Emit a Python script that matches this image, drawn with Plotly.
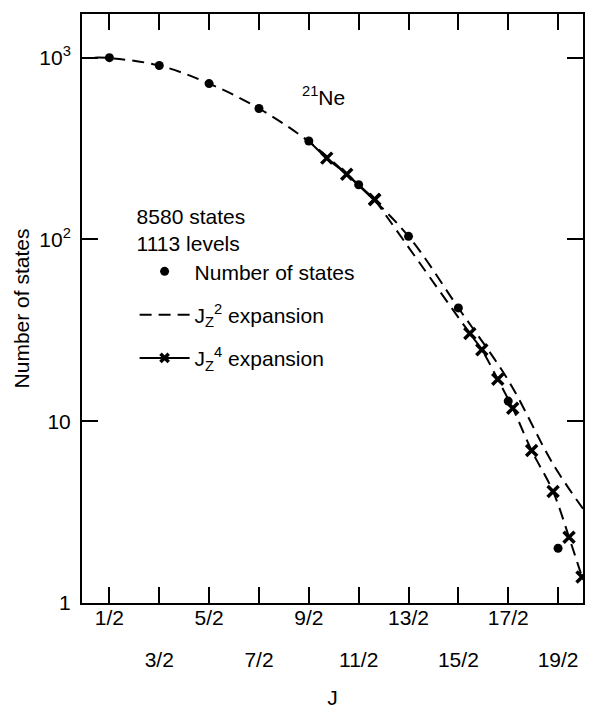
import plotly.graph_objects as go

# ---- data ----
J_states = [0.5, 1.5, 2.5, 3.5, 4.5, 5.5, 6.5, 7.5, 8.5, 9.5]
n_states = [1000, 905, 720, 525, 348, 200, 104, 42, 12.9, 2.0]

jz2_J = [0.2, 0.5, 1.5, 2.5, 3.5, 4.5, 5.5, 6.5, 7.5, 8.5, 9.4, 10.0]
jz2_vals = [1000, 995, 905, 720, 525, 345, 198, 104, 42, 16.8, 5.8, 3.3]

jz4_J = [4.5, 4.86, 5.26, 5.82, 7.73, 7.97, 8.29, 8.59, 8.97, 9.40, 9.72, 9.98]
jz4_vals = [348, 280, 228, 166, 30.4, 24.7, 17.0, 11.8, 6.9, 4.1, 2.3, 1.39]
jz4_marked = [False, True, True, True, True, True, True, True, True, True, True, True]

tick_J = [0.5, 1.5, 2.5, 3.5, 4.5, 5.5, 6.5, 7.5, 8.5, 9.5]
tick_labels = ["1/2", "3/2", "5/2", "7/2", "9/2", "11/2", "13/2", "15/2", "17/2", "19/2"]

y_tickvals = [1, 10, 100, 1000]
y_ticktext = ["1", "10", "10<sup>2</sup>", "10<sup>3</sup>"]

FONT = "Liberation Sans"
FS = 21

fig = go.Figure()

# J_z^2 expansion (dashed)
fig.add_trace(go.Scatter(
    x=jz2_J, y=jz2_vals, mode="lines", name="J<sub>Z</sub><sup>2</sup> expansion",
    line=dict(color="black", width=2, dash="12px,7px", shape="spline"),
    legendgroup="g2", legendrank=2,
))

# J_z^4 expansion: solid upper part, continuation appears dashed in the print
split = 4
mk = dict(symbol="x-thin", color="#000000", opacity=1,
          line=dict(width=3.5, color="#000000"))
fig.add_trace(go.Scatter(
    x=jz4_J[:split], y=jz4_vals[:split], mode="lines+markers",
    name="J<sub>Z</sub><sup>4</sup> expansion",
    line=dict(color="black", width=2, shape="spline"),
    marker=dict(size=[11 if m else 0 for m in jz4_marked[:split]], **mk),
    legendgroup="g3", legendrank=3,
))
fig.add_trace(go.Scatter(
    x=jz4_J[split - 1:], y=jz4_vals[split - 1:], mode="lines+markers",
    showlegend=False,
    line=dict(color="black", width=2, dash="12px,7px", shape="spline"),
    marker=dict(size=[11 if m else 0 for m in jz4_marked[split - 1:]], **mk),
    legendgroup="g3",
))

# Number of states (dots)
fig.add_trace(go.Scatter(
    x=J_states, y=n_states, mode="markers", name="Number of states",
    marker=dict(symbol="circle", size=9, color="black"),
    legendgroup="g1", legendrank=1,
))

row1_vals = [v for i, v in enumerate(tick_J) if i % 2 == 0]
row1_text = [t for i, t in enumerate(tick_labels) if i % 2 == 0]
row2_vals = [v for i, v in enumerate(tick_J) if i % 2 == 1]
row2_text = [t for i, t in enumerate(tick_labels) if i % 2 == 1]

XR = [-0.05, 10.0]

fig.update_layout(
    width=590, height=709,
    margin=dict(l=82, r=7, t=14, b=106),
    paper_bgcolor="white", plot_bgcolor="white",
    font=dict(family=FONT, size=FS, color="black"),
    showlegend=True,
    legend=dict(
        x=0.105, y=0.69, xanchor="left", yanchor="top",
        bgcolor="rgba(0,0,0,0)",
        font=dict(family=FONT, size=FS, color="black"),
        title=dict(text="8580 states<br>1113 levels", font=dict(family=FONT, size=FS)),
        tracegroupgap=13, itemwidth=50,
    ),
    xaxis=dict(
        range=XR, tickvals=tick_J, showticklabels=False, automargin=False,
        ticks="inside", ticklen=16, tickwidth=2, tickcolor="black",
        showline=True, linecolor="black", linewidth=2, mirror="ticks",
        showgrid=False, zeroline=False,
    ),
    xaxis2=dict(
        range=XR, overlaying="x", anchor="y", side="bottom", automargin=False,
        tickvals=row1_vals, ticktext=row1_text, ticks="",
        showline=False, showgrid=False, zeroline=False,
        tickfont=dict(family=FONT, size=FS),
    ),
    xaxis3=dict(
        range=XR, overlaying="x", anchor="y", side="bottom", automargin=False,
        tickvals=row2_vals, ticktext=row2_text, ticks="",
        showline=False, showgrid=False, zeroline=False,
        tickfont=dict(family=FONT, size=FS), ticklabelstandoff=42,
        title=dict(text="J", font=dict(family=FONT, size=FS), standoff=30),
    ),
    yaxis=dict(
        type="log", range=[0, 3.24], automargin=False,
        tickvals=y_tickvals, ticktext=y_ticktext,
        ticks="inside", ticklen=16, tickwidth=2, tickcolor="black",
        showline=True, linecolor="black", linewidth=2, mirror="ticks",
        showgrid=False, zeroline=False,
        tickfont=dict(family=FONT, size=FS), ticklabelstandoff=5,
        title=dict(text="Number of states", font=dict(family=FONT, size=FS), standoff=4),
    ),
    annotations=[dict(
        x=4.8, y=2.79, xref="x", yref="y", text="<sup>21</sup>Ne",
        showarrow=False, font=dict(family=FONT, size=FS),
    )],
)

# invisible traces to activate the label-row axes
for ax in ("x2", "x3"):
    fig.add_trace(go.Scatter(x=[tick_J[0]], y=[n_states[0]], xaxis=ax, mode="markers",
                             marker=dict(opacity=0), showlegend=False, hoverinfo="skip"))

fig.write_html("out.html", config={"displayModeBar": False},
               post_script="document.body.style.margin='0';")
